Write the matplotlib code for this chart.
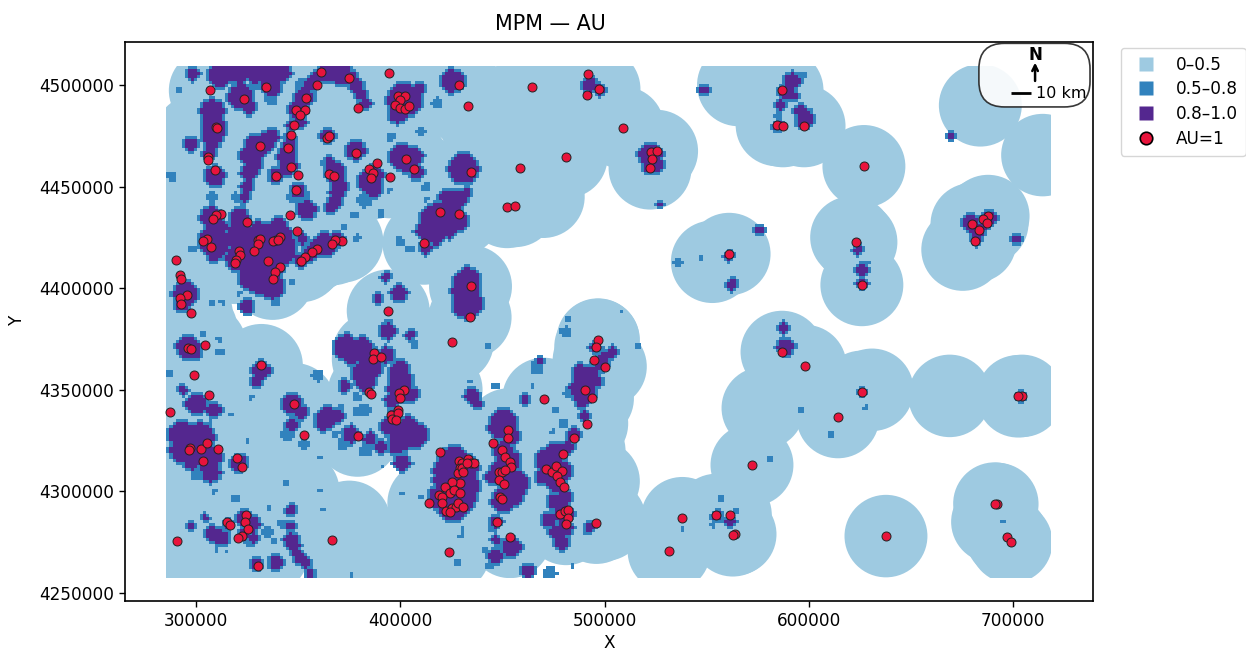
import numpy as np
import matplotlib
matplotlib.use('Agg')
import matplotlib.pyplot as plt
from matplotlib.colors import ListedColormap
from matplotlib.lines import Line2D
from matplotlib.patches import Circle, FancyBboxPatch, Rectangle

# everything in km
au_points = [
    (307.0,4497.3),(323.5,4493.2),(334.4,4499),(361.2,4506.5),(359,4500),(375,4503.4),(394.3,4506),(428.6,4500.1),
    (433.1,4489.6),(353.8,4493.6),(349.2,4487.5),(353.5,4487.8),(350.7,4485),(379.3,4488.5),(398.7,4494.7),(402.3,4494.7),
    (399.8,4492.6),(397.4,4490.1),(399.8,4488.5),(402.3,4488),(404.4,4489.6),(310,4479.5),(310.4,4478.6),(348.1,4480.1),
    (346.3,4475.2),(364,4473.7),(365.1,4474.9),(331.1,4469.8),(344.8,4468.8),(306,4464.4),(305.8,4463.1),(378.3,4466.3),
    (402.6,4463.6),(406.5,4458.6),(434.4,4457.3),(309.3,4458),(346.6,4459.5),(349.9,4455.8),(339.3,4455.2),(364.9,4456),
    (367.5,4455),(384.8,4458.6),(388.4,4461.7),(386.5,4456.7),(385.8,4454),(395,4454.7),(349.1,4448.5),(419.3,4437.6),
    (429,4436.3),(346.1,4436.2),(312.4,4436.7),(309.6,4436),(308.3,4434),(325,4432.6),(349.6,4428.1),(305.2,4424),
    (303.6,4423.2),(307.5,4420.1),(330.3,4423.7),(331.3,4424.4),(330.2,4421.6),(328.2,4418.5),(321.2,4418.5),(321.7,4416.2),
    (319.5,4413.9),(319.1,4412.5),(339,4423.7),(337.8,4423),(341.1,4425),(340.3,4423.7),(371.4,4423),(367.9,4423.5),
    (366.7,4421.7),(359.2,4419.3),(356.6,4418),(353.3,4415.2),(351.4,4413.4),(411.6,4422),(290.3,4413.9),(335.2,4413.5),
    (340.9,4410.4),(338.6,4408),(337.5,4404.7),(292,4406.5),(292.6,4404.7),(295.7,4396.8),(292.1,4395),(292.5,4392),
    (297.7,4387.6),(394.1,4388.9),(434.4,4400.9),(434.2,4385.7),
    (295.9,4370.8),(297.5,4369.9),(304.4,4371.8),(332,4362.1),(299.1,4357.2),(306.5,4347.3),(287.4,4339.3),(348.1,4342.9),
    (352.8,4327.8),(379.1,4327.5),(387,4368),(386.8,4365),(390.4,4366.2),(384.8,4348.8),(385.5,4347.8),(425.5,4373.6),
    (401.6,4349.8),(399.5,4348.6),(400,4346),(398.7,4340.1),(395.4,4337.5),(399,4338.5),(395.8,4335.5),(397.7,4334.9),
    (419.7,4319.3),(297.3,4321.6),(296.5,4320.4),(302.4,4320.7),(305.5,4323.9),(311,4320.9),(320.2,4316.5),(322.3,4312),
    (303.4,4314.8),(324.3,4288.4),(324.1,4285),(325.3,4281.6),(322.6,4278.1),(320.5,4277.3),(315,4284.7),(316.8,4283.4),
    (290.8,4275.8),(366.7,4276.3),(330.5,4263.5),(423.8,4270.2),(414,4294.3),
    (496.8,4374.7),(495.7,4371.2),(494.9,4364.5),(500.4,4361.4),(470.2,4345.5),(490.6,4349.8),(494.1,4345.8),(491.3,4333.4),
    (485.1,4326.1),(452.9,4330.4),(452.9,4326.3),(445.6,4323.7),(479.7,4318.3),(450,4320.4),(451.5,4317.1),(453.6,4314.7),
    (454.2,4311.9),(448.5,4309.6),(449.8,4309.6),(451.5,4310.6),(448.2,4305.6),(450.8,4303.5),(449,4297.4),(449.8,4296.1),
    (471.5,4311.2),(474.2,4309.6),(476.3,4312.7),(479.2,4309.9),(476.6,4307.6),(478.4,4304.8),(480.2,4302.2),(478.2,4288.7),
    (480.8,4290.4),(482.3,4290.9),(482.3,4286.9),(481.2,4284),(496,4284.6),(447.4,4284.8),(453.8,4277.6),(538.1,4286.8),
    (554.8,4288.4),(561.6,4288.4),(563.9,4278.9),(562.8,4278.4),(531.6,4270.7),
    (428.9,4315),(430.1,4313.8),(433,4315.8),(434.7,4313.8),(436.1,4313.8),(429.3,4311.4),(428.5,4308.9),(430.4,4311.7),
    (429.3,4304),(425.2,4304.5),(421.9,4302),(424.4,4299.1),(426.5,4300.7),(429.3,4299.1),(419,4298.3),(420.6,4297.4),
    (420.6,4294.2),(422.4,4290.4),(425.2,4291.7),(427.3,4292.2),(428.5,4294.2),(430.9,4292.2),(424.4,4290.1),(432.5,4313.8),
    (430.9,4309.7),
    (491.9,4505.4),(464.5,4499),(497.3,4498),(491.4,4495),(586.9,4497.5),(584.5,4480.3),(587.4,4479.8),(597.7,4479.8),
    (481.2,4464.6),(509,4479),(522.8,4467),(525.5,4467.5),(523.3,4463.5),(522.3,4459),(627,4460),(458.6,4459),(452.3,4440),
    (456.2,4440.5),(561,4416.8),(623.1,4422.7),(626,4401.6),(679.9,4431.5),(687.8,4435.5),(685.4,4434),(683.4,4428.5),
    (687.3,4432),(681.4,4423),(586.9,4368.6),(598.2,4361.7),(626,4349),(614.3,4336.6),(704.4,4347),(702.5,4346.8),
    (572.2,4313),(637.8,4278),(692.2,4293.8),(697,4277.6),(699,4275),(691,4294),
]

# buffer centres that have no AU point on top
extra_centres = [
    (669,4347),(577.6,4341),(631,4350),(497,4374.5),(498,4363),(491,4335),(500,4286),(714.5,4465.5),(684,4490),
    (565.6,4500),(581,4495),(552.8,4413),(621,4425),(675.4,4419),(690,4285),(300,4450),(300,4330),(340,4300),(375,4285),
    (400,4270),(300,4290),(350,4300),(420,4350),
    (470,4480),(480,4485),(445,4445),(470,4445),(310,4335),(330,4335),(345,4325),(300,4262),(335,4270),(375,4268),
    (490,4320),(497,4305),(303,4440),(300,4475),(300,4380),(305,4300),(305,4330),(440,4480),(295,4345),
]

high_blobs = [
    (298.4,4505.6,2.5),(311.7,4504.8,5),(321.2,4506.4,5),(336.7,4505.6,5.7),(336.7,4499,4),(322,4494,5.7),(326,4489,2.5),
    (308,4487,5),(309,4479,5),(307.7,4471,3),(297.6,4471,2.5),(363,4505.6,3.5),(371,4505.6,4.5),(379,4499,2.5),(353,4494,4),
    (350,4488,4),(347,4480,2),(346,4474,2),(330,4469.5,5.5),(326,4465,4),(326,4456.5,3.5),(337,4474.5,3),(344.5,4465,4),
    (345,4460,4),(339,4455.5,2.5),(364.5,4475,3),(378,4468,4),(368,4457,4),(370,4450,3.5),(368,4443,3),(386.5,4455,4.5),
    (386.5,4449,3.5),(402,4492.5,7.5),(398.7,4486,4),(409,4498,2.5),(425.5,4502,5),(401,4464.6,5.5),(407,4465,3.5),
    (408,4457,2.5),(431,4459,6.5),(309,4455,4),(350,4448,3),(354,4438.6,4),(307.4,4435,4.5),(321,4435,4),(324,4425,5.5),
    (320.4,4415,5.5),(307.4,4423.6,5.5),(309,4417,3),(337,4420,8),(335,4412,7.5),(327,4405,5.5),(337,4400.6,5.5),(342,4425,5),
    (330,4420,4),(363,4422,4.5),(356,4417,3),(351.5,4414,2.5),(369,4424,2.5),(420,4433.5,8),(417,4427,5),(425.5,4438.5,4),
    (412.5,4420,2.5),(295,4397,5.5),(293,4392.5,3),(399.5,4397.5,3.5),(433,4404,5.5),(433,4392.5,6.5),(325,4391,2.5),
    (393,4405.6,1.5),(389,4395,1.7),
    (296,4371,5),(299,4368,2.5),(332,4359.5,3.5),(329.5,4354,2),(300,4343,4.5),(309,4340,3),(293.5,4350,1.7),(347,4343,4),
    (351.5,4339,2.5),(347,4332.5,2),(293.5,4327.5,6),(302.5,4327,6),(293,4320,5),(300,4319,4),(307.4,4317,4.5),(307.4,4309,4),
    (321,4314,3.5),(373.4,4371,5.5),(381,4370,5),(393,4367,3.5),(385,4361,5),(383,4354,4),(385,4364,4),(394,4379,3.5),
    (372.6,4352,2),(400,4359.5,4),(400,4350.5,5.5),(405,4348,3),(397,4336.6,2.5),(364.4,4336.5,4.5),(376,4328,3.5),
    (385,4326,2.5),(390.5,4322,2),(402,4328,6.5),(407,4327.5,5.5),(401,4314,3.5),
    (426,4315,6.5),(432,4312,5.5),(424.5,4305.4,7.5),(432.6,4302,5.5),(419.6,4297,5),(426,4294,7.5),
    (450.5,4334,5.5),(454,4327.6,3.5),(450.5,4310,6),(456,4304,6),(450.5,4295.6,5),(454.6,4272.6,4),(446.5,4268,3),
    (462.4,4261,2.5),(447,4276,1.7),(447,4285,2.4),
    (472.5,4315,5.5),(478,4310,5),(476.6,4304,4),(480,4297,3),(473,4286,3),(480,4289,4),(479,4275,3),(484.8,4327.6,2.5),
    (490.5,4337,2),(489,4345,3),(490.5,4353,5.5),(496,4354.6,2.5),(498,4363,3),(504,4368.6,2),(495.4,4371,2),(435,4347,3),
    (437.5,4343,1.7),(493,4282.5,2),(555,4288,2),(561.4,4285,2),(405,4377,1.7),(461,4345.6,1.7),(468.5,4364.5,1.3),
    (323.7,4287,3.5),(328,4284,3),(323.7,4279,2.5),(308,4279,3),(313,4277,2.5),(315.5,4284,1.7),(297,4283,1.4),(304.6,4287,1.2),
    (346.5,4291,2),(346.5,4276,3),(349,4270,2),(354,4265,2),(356,4260,1.5),(339,4265,2.5),(329.4,4264.5,2.2),
    (592,4502,3.5),(588.6,4496.5,2.5),(586,4490,2),(598,4483,3.5),(585,4480,2),(493,4500,3),(498,4497.5,2),(522.5,4465.6,5),
    (525,4460.6,3),(679,4432.6,3),(688,4434.6,3),(683,4428,2.5),(682,4424,2),(702,4424,1.5),(626,4409,2),(626,4402.6,2),
    (624,4419,1.5),(561,4416,1.5),(562.6,4401.6,2),(576,4428.6,1.5),(588.6,4371,3.5),(588,4380.5,2),(626,4349,1.5),
    (704,4346.5,1.5),(549,4497.5,1.5),(669.5,4475,1),(527,4441,1),
    # links between the patches above
    (308,4483,4.5),(308,4475,4),(306.5,4466,2.5),(316,4506,4),(329,4506,4.5),(343,4506,3),(366,4505.6,3.5),(376,4503,3),
    (381,4495,2),(383,4491,2),(356,4500,2.5),(358,4503,2.5),(351,4482,2.5),(345.5,4470,2.5),(334,4472,4),(328,4461,3.5),
    (325,4450,2.5),(324,4445,2),(369,4447,3),(366,4440,2.5),(365.5,4462,2),(384,4452,4),(404,4461,4),(428,4444,4),
    (423,4445,3),(432,4447,2),(415,4436,4),(424,4428,3),(312,4430,3),(320,4428,4),(322,4420,4.5),(315,4424,3),
    (312,4420,3),(331,4428,4),(329,4412,6),(332,4402,5),(344,4417,4),(340,4430,4),(346,4421,2.5),(360,4420,3.5),
    (365,4420,3),(352,4424,2),(416,4434,6),(411,4428,3),(428,4433,4),(432,4398,6),(300,4323,6),(298,4314,3),(306,4313,4),
    (376,4367,4),(388,4366,3),(382,4358,5),(400,4355,5),(396,4345,3),(395,4332,4),(404,4333,3),(398,4322,3),(369,4337,3),
    (362,4333,3),(423,4310,6),(430,4307,7),(424,4299,7),(431,4296,5),(448,4331,4),(450,4320,4),(453,4315,5),(445,4307,3),
    (455,4299,5),(470,4307,3),(476,4319,4),(482,4322,2),(476,4295,3),(476,4280,2.5),(481,4282,3),(490,4349,5),(488,4359,3),
    (486,4351,3),(494,4358,3),(500,4366,2),(592,4495,2),(596,4487,2),(522,4460,2.5),(680,4429,2),(686,4431,2),
    (346,4283,1.5),(348,4273,2.5),(351,4267,2),(311,4278,3),(328,4277,2),
]

mid_blobs = [
    (288,4455,2),(291.4,4497.4,1),(308,4445,2.5),(319,4445,2),(323,4443.5,2),(337,4493,2.5),(330,4501.5,3.5),(351.5,4500,2.5),
    (395.4,4474.4,2),(410,4477,2),(418,4491,2.5),(382.4,4443,3),(377.5,4436,1.5),(400,4423,2),(405,4419.5,1.5),(363,4461.5,2),
    (348,4445,3),(354.6,4446,1.5),(298.4,4419.5,1.5),(307.4,4392.5,1.2),(313,4393,1.2),(321,4397.5,1.3),(339,4393,2),
    (347.4,4403,1.3),(379,4424.4,1.5),(372.6,4430,1),(390.5,4436.7,1.3),(394.6,4448.2,1),(412.5,4450,2),(412.5,4444,1),
    (303.3,4377.5,1),(311.5,4375,1),(311.5,4368.5,1.6),(287.5,4358,1.2),(327,4346.4,1.2),(317,4338,1),(307.4,4334,1),
    (325.3,4325,1),(300,4308,2.5),(309,4300,1.2),(319,4296.4,1.6),(344,4304,.8),(360.4,4300.4,1),(362,4291,1),(336,4292,1),
    (342.4,4284,2.2),(327,4274,1.6),(335,4280,2),(337.5,4275.3,1.3),(310,4270.6,.8),(315,4270,.8),(376,4259,1),(345,4328,3),
    (353,4323.4,2.5),(359.5,4357,2.5),(382.4,4340,3),(379,4339,2),(372,4323.4,2.5),(383,4320,2.5),(391.3,4322,2.5),
    (371,4341.4,1),(379,4346.4,2),(368.5,4328.3,1.4),(360.4,4317,.8),(391.3,4312.4,.8),(401,4298.3,.8),(410,4297.5,.8),
    (407,4372.6,1.6),(394,4382.4,2.5),(430.4,4281.6,.8),(427.7,4265.2,.8),
    (480.7,4378.4,2.5),(481.5,4385,1.3),(467,4361,3),(434,4354.3,1),(447,4352,1.6),(464.4,4352,.8),(443,4372,1.2),
    (476.6,4340,1.3),(480,4333.3,2),(481.5,4348,1.6),(475,4329,1),(476,4294,2),(445,4282.5,2.2),(441.6,4271,1.3),
    (444,4263.6,1.6),(473.4,4260,3),(484,4263.6,.8),(428.5,4265.3,.8),(430,4278.4,1),(401.6,4298.6,.8),(410.6,4297,.8),
    (491.6,4280,1.6),(508,4389,.8),(516.5,4371.5,1.6),(564.6,4291,1.3),(557,4297,1.2),(552.7,4283.3,.8),(538.6,4281.7,.8),
    (536,4413,2),(547,4415,1),(611,4328,1.5),(628,4341,1),(596,4340,.8),(581,4316,.8),(690.6,4294,1),(695,4285,.8),
    (699,4277.6,.8),(626,4406,1),(629,4413,.8),(585,4485,1.5),(601,4487,1),(597,4505,1.5),
]

class_labels = ['0–0.5', '0.5–0.8', '0.8–1.0']
class_colors = ['#9ecae1', '#3182bd', '#54278f']
buffer_km = 20.3
x_min, x_max, y_min, y_max = 285.5, 718.5, 4257.5, 4509.5
cell = 1.5

def paint(grid, blobs, xc, yc, value):
    for bx, by, br in blobs:
        d = np.hypot(xc - bx, yc - by)
        grid[d <= br + cell * 0.3] = value

def grow(mask):
    out = mask.copy()
    out[1:, :] |= mask[:-1, :]
    out[:-1, :] |= mask[1:, :]
    out[:, 1:] |= mask[:, :-1]
    out[:, :-1] |= mask[:, 1:]
    return out

xe = np.arange(x_min, x_max + cell, cell)
ye = np.arange(y_min, y_max + cell, cell)
xc, yc = np.meshgrid((xe[:-1] + xe[1:]) / 2, (ye[:-1] + ye[1:]) / 2)
classes = np.zeros(xc.shape)
high = np.zeros(xc.shape)
paint(high, high_blobs, xc, yc, 1)
paint(classes, mid_blobs, xc, yc, 1)
# blue rim round the purple
classes[grow(high > 0)] = 1
classes[high > 0] = 2

fig, ax = plt.subplots(figsize=(12.46, 6.5), dpi=100)
fig.subplots_adjust(left=125 / 1246, right=1093 / 1246, top=1 - 42 / 650, bottom=1 - 601 / 650)

clip = Rectangle((x_min * 1000, y_min * 1000), (x_max - x_min) * 1000, (y_max - y_min) * 1000,
                 transform=ax.transData)
au = np.array(au_points)
for cx, cy in list(au_points) + extra_centres:
    c = Circle((cx * 1000, cy * 1000), buffer_km * 1000, fc=class_colors[0], ec='none', zorder=1)
    ax.add_patch(c)
    c.set_clip_path(clip)

masked = np.ma.masked_equal(classes, 0)
ax.pcolormesh(xe * 1000, ye * 1000, masked, cmap=ListedColormap(class_colors[1:]), vmin=0.5, vmax=2.5, zorder=2)
ax.scatter(au[:, 0] * 1000, au[:, 1] * 1000, s=42, c='#e8143c', edgecolors='#222222', linewidths=0.7, zorder=3)

ax.set_xlim(265240, 739160)
ax.set_ylim(4246060, 4521160)
ax.set_xticks([300000, 400000, 500000, 600000, 700000])
ax.set_yticks([4250000, 4300000, 4350000, 4400000, 4450000, 4500000])
ax.ticklabel_format(style='plain', useOffset=False)
ax.tick_params(labelsize=12.2, length=4.5, width=1)
fig.text(550 / 1246, 1 - 24 / 650, 'MPM — AU', ha='center', va='center', fontsize=14.9)
ax.set_xlabel('X', fontsize=12.2, labelpad=3)
fig.text(17 / 1246, 1 - 320 / 650, 'Y', rotation=90, ha='center', va='center', fontsize=12.2)
for s in ax.spines.values():
    s.set_linewidth(1.2)

# north arrow and scale bar
box = FancyBboxPatch((683300, 4489200), 54400, 31300, boxstyle='round,pad=0,rounding_size=12500',
                     fc='white', ec='#222222', lw=1.2, alpha=0.9, zorder=5)
ax.add_patch(box)
ax.text(710800, 4514800, 'N', ha='center', va='center', fontsize=12, fontweight='bold', zorder=6)
ax.annotate('', xy=(710800, 4511000), xytext=(710800, 4502000),
            arrowprops=dict(arrowstyle='->', lw=1.8, color='black', shrinkA=0, shrinkB=0), zorder=6)
ax.plot([699000, 709000], [4496000, 4496000], color='black', lw=2, zorder=6, solid_capstyle='butt')
ax.text(711300, 4496000, '10 km', ha='left', va='center', fontsize=11.5, zorder=6)

handles = [Line2D([], [], ls='none', marker='s', ms=10.5, mfc=col, mec='none') for col in class_colors]
handles.append(Line2D([], [], ls='none', marker='o', ms=9, mfc='#e8143c', mec='black', mew=1.2))
fig.legend(handles, class_labels + ['AU=1'], loc='upper left', bbox_to_anchor=(1121 / 1246, 1 - 48 / 650),
           borderaxespad=0, fontsize=12.2, handletextpad=0.8, borderpad=0.45, labelspacing=0.4, handlelength=2)

fig.savefig('out.png', dpi=100)
